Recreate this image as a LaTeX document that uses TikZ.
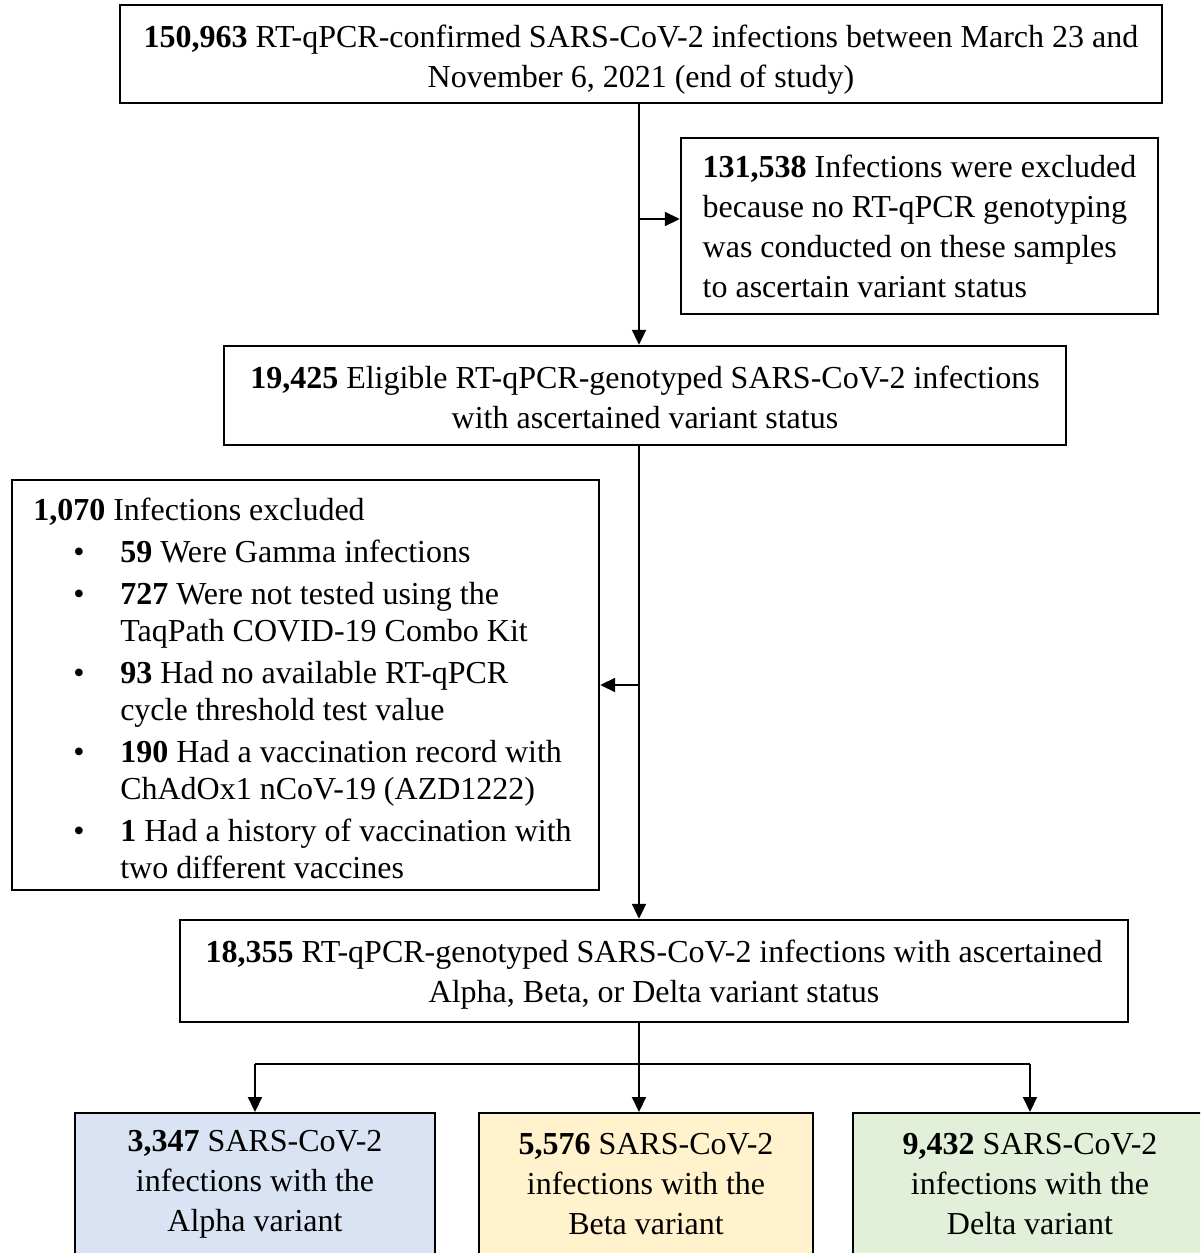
\documentclass[tikz,border=0pt]{standalone}
\usepackage{fontspec}
\setmainfont{Liberation Serif}
\usetikzlibrary{arrows.meta,positioning}
\definecolor{alphafill}{HTML}{DAE3F3}
\definecolor{betafill}{HTML}{FFF2CC}
\definecolor{deltafill}{HTML}{E2F0D9}
\tikzset{
  basic/.style    = {draw, line width=1.2pt, rectangle, inner sep=0pt,
                     font=\fontsize{16}{20}\selectfont},
  stage/.style    = {basic, align=center},
  excluded/.style = {basic, align=left},
  variant/.style  = {basic, align=center, anchor=north, minimum height=71pt},
  arr/.style      = {-{Triangle[length=7.5pt,width=7pt]}, line width=1pt},
  thinline/.style = {line width=0.6pt}
}
\newcommand{\bul}{\hspace*{20pt}\makebox[23.5pt][l]{\textbullet}}
\newcommand{\cont}{\hspace*{43.5pt}}
\newcommand{\lift}[1]{\rule{0pt}{#1}}

\begin{document}
\begin{tikzpicture}[x=0.5pt,y=-0.5pt]
\useasboundingbox (0,0) rectangle (1200,1253);
\clip (0,0) rectangle (1200,1253);

% main column of the flow
\node[stage, minimum width=521pt, minimum height=49pt] (total) at (641,54)
  {\lift{17pt}\textbf{150,963} RT-qPCR-confirmed SARS-CoV-2 infections between March 23 and\\
   November 6, 2021 (end of study)};
\node[excluded, minimum width=238.5pt, minimum height=88pt] (excl1) at (919.5,226)
  {\textbf{131,538} Infections were excluded\\
   because no RT-qPCR genotyping\\
   was conducted on these samples\\
   to ascertain variant status};
\node[stage, minimum width=421pt, minimum height=49.5pt] (elig) at (645,395.5)
  {\lift{13pt}\textbf{19,425} Eligible RT-qPCR-genotyped SARS-CoV-2 infections\\
   with ascertained variant status};
\node[excluded, minimum width=293.5pt, minimum height=205pt,
      font=\fontsize{16}{18.5}\selectfont] (excl2) at (305.5,685)
  {\lift{15pt}\textbf{1,070} Infections excluded\\[2.5pt]
   \bul\textbf{59} Were Gamma infections\\[2.5pt]
   \bul\textbf{727} Were not tested using the\\
   \cont TaqPath COVID-19 Combo Kit\\[2.5pt]
   \bul\textbf{93} Had no available RT-qPCR\\
   \cont cycle threshold test value\\[2.5pt]
   \bul\textbf{190} Had a vaccination record with\\
   \cont ChAdOx1 nCoV-19 (AZD1222)\\[2.5pt]
   \bul\textbf{1} Had a history of vaccination with\hspace{3pt}\mbox{}\\
   \cont two different vaccines};
\node[stage, minimum width=474pt, minimum height=51pt] (final) at (654,971)
  {\lift{15pt}\textbf{18,355} RT-qPCR-genotyped SARS-CoV-2 infections with ascertained\\
   Alpha, Beta, or Delta variant status};

% the three variant groups
\node[variant, fill=alphafill, minimum width=180pt] (alpha) at (255,1112)
  {\textbf{3,347} SARS-CoV-2\\ infections with the\\ Alpha variant};
\node[variant, fill=betafill, minimum width=167pt] (beta) at (646,1112)
  {\textbf{5,576} SARS-CoV-2\\ infections with the\\ Beta variant};
\node[variant, fill=deltafill, minimum width=177pt] (delta) at (1030,1112)
  {\textbf{9,432} SARS-CoV-2\\ infections with the\\ Delta variant};

\coordinate (spine) at (639,0);
\coordinate (split) at (639,1064);
\coordinate (excl1in) at ([yshift=3.5pt]excl1.west);

% lines along the spine
\draw[arr] (total.south -| spine) -- (elig.north -| spine);
\draw[arr] (spine |- excl1in) -- (excl1in);
\draw[arr] (elig.south -| spine) -- (final.north -| spine);
\draw[arr] (spine |- excl2.east) -- (excl2.east);

% split into the variants
\draw[thinline] (final.south -| spine) -- (split);
\draw[thinline] (alpha.north |- split) -- (delta.north |- split);
\foreach \v in {alpha,delta}
  \draw[arr] (\v.north |- split) -- (\v.north);
\draw[arr] (split) -- (spine |- beta.north);
\end{tikzpicture}
\end{document}
